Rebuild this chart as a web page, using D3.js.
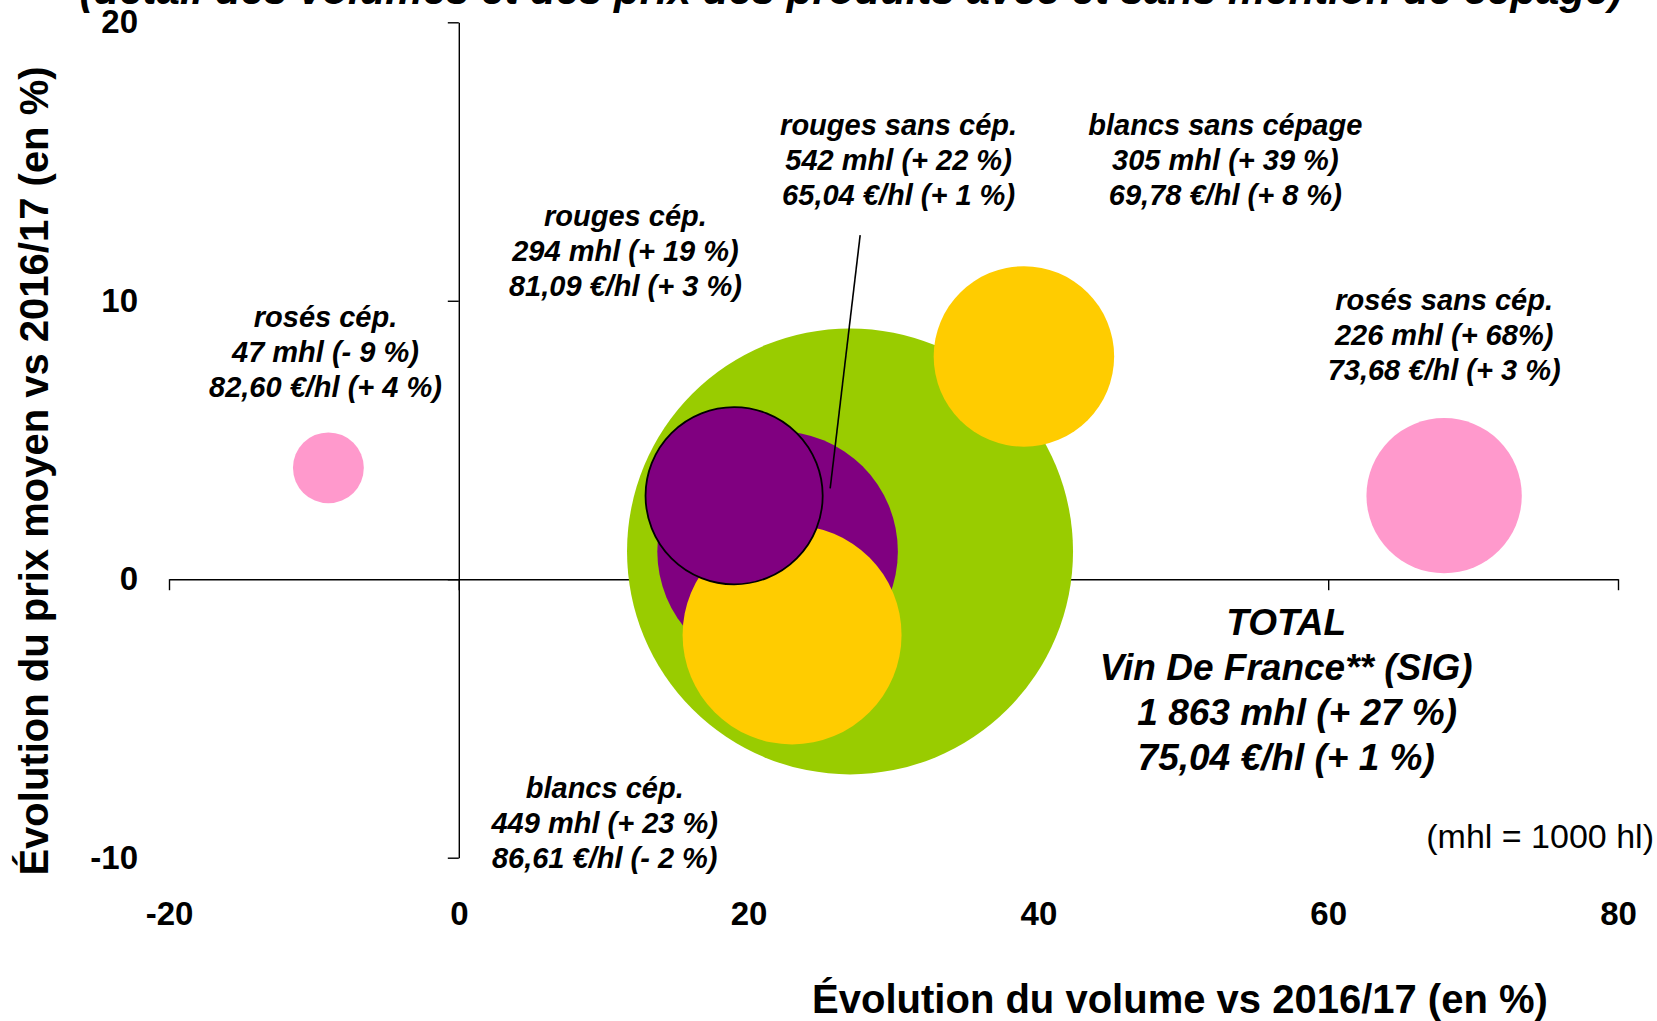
<!DOCTYPE html>
<html>
<head>
<meta charset="utf-8">
<script src="https://cdn.jsdelivr.net/npm/d3@7"></script>
<style>
  body { margin: 0; background: #fff; }
  svg { display: block; font-family: "Liberation Sans", Arial, sans-serif; }
</style>
</head>
<body>
<svg id="chart" width="1657" height="1021"></svg>
<script>
// categories, drawn in this order (big ones first)
const series = ['total', 'rouges sans cép.', 'blancs cép.', 'rouges cép.', 'blancs sans cépage', 'rosés sans cép.', 'rosés cép.'];
const volumeChange = [27, 22, 23, 19, 39, 68, -9];   // % vs 2016/17
const priceChange = [1, 1, -2, 3, 8, 3, 4];          // % vs 2016/17
const volumes = [1863, 542, 449, 294, 305, 226, 47]; // mhl

const labelLines = [
  ['TOTAL', 'Vin De France** (SIG)', '1 863 mhl (+ 27 %)', '75,04 €/hl (+ 1 %)'],
  ['rouges sans cép.', '542 mhl (+ 22 %)', '65,04 €/hl (+ 1 %)'],
  ['blancs cép.', '449 mhl (+ 23 %)', '86,61 €/hl (- 2 %)'],
  ['rouges cép.', '294 mhl (+ 19 %)', '81,09 €/hl (+ 3 %)'],
  ['blancs sans cépage', '305 mhl (+ 39 %)', '69,78 €/hl (+ 8 %)'],
  ['rosés sans cép.', '226 mhl (+ 68%)', '73,68 €/hl (+ 3 %)'],
  ['rosés cép.', '47 mhl (- 9 %)', '82,60 €/hl (+ 4 %)']
];

const xTicks = [-20, 0, 20, 40, 60, 80];
const yTicks = [-10, 0, 10, 20];

const title = '(détail des volumes et des prix des produits avec et sans mention de cépage)';
const xTitle = 'Évolution du volume vs 2016/17 (en %)';
const yTitle = 'Évolution du prix moyen vs 2016/17 (en %)';
const unitNote = '(mhl = 1000 hl)';

// layout / style
const fills = ['#99CC00', '#800080', '#FFCC00', '#800080', '#FFCC00', '#FF99CC', '#FF99CC'];
const outlined = [false, false, false, true, false, false, false];
// label anchor in data units (centre x, first baseline y)
const labelPos = [[57.1, -2.0], [30.35, 15.95], [10.07, -7.86], [11.5, 12.68], [52.9, 15.95], [68.0, 9.66], [-9.2, 9.06]];
const labelSize = [37, 29, 29, 29, 29, 29, 29];
const labelStep = [45, 35, 35, 35, 35, 35, 35];
// leader from the rouges sans cép. label down to its bubble (data units)
const leader = [[27.7, 12.36], [25.63, 3.26]];

const svg = d3.select('#chart');

let x = d3.scaleLinear().domain([-20, 80]).range([169, 1618]);
let y = d3.scaleLinear().domain([-10, 20]).range([857.7, 22.3]);
let r = d3.scaleSqrt().domain([0, 1863]).range([0, 223]);
let fmt = d => String(d); // plain hyphen, like the original

// title (cut off at the top of the picture)
svg.append('text')
  .attr('x', 851).attr('y', 4)
  .attr('text-anchor', 'middle')
  .attr('font-size', 42).attr('font-weight', 'bold').attr('font-style', 'italic')
  .text(title);

// axis lines + ticks
let xAxis = svg.append('g')
  .attr('transform', `translate(0,${y(0)})`)
  .call(d3.axisBottom(x).tickValues(xTicks).tickSize(11).tickSizeOuter(0).tickFormat(''));
let yAxis = svg.append('g')
  .attr('transform', `translate(${x(0)},0)`)
  .call(d3.axisLeft(y).tickValues(yTicks).tickSize(11).tickSizeOuter(0).tickFormat(''));
[xAxis, yAxis].forEach(g => {
  g.selectAll('path, line').attr('stroke', '#000').attr('stroke-width', 1.4);
});

// tick labels sit low / left, away from the axis lines
let xLab = svg.append('g')
  .attr('transform', 'translate(0,902)')
  .call(d3.axisBottom(x).tickValues(xTicks).tickSize(0).tickPadding(0).tickFormat(fmt));
let yLab = svg.append('g')
  .attr('transform', 'translate(138,0)')
  .call(d3.axisLeft(y).tickValues(yTicks).tickSize(0).tickPadding(0).tickFormat(fmt));
[xLab, yLab].forEach(g => {
  g.select('.domain').remove();
  g.attr('font-family', null).attr('font-size', null);
  g.selectAll('text').attr('font-size', 33).attr('font-weight', 'bold').attr('fill', '#000');
});

// bubbles
let bubbles = series.map((s, i) => ({
  name: s, vx: volumeChange[i], vy: priceChange[i], vol: volumes[i],
  fill: fills[i], outlined: outlined[i]
}));

svg.append('g').selectAll('circle')
  .data(bubbles)
  .enter().append('circle')
    .attr('cx', d => x(d.vx))
    .attr('cy', d => y(d.vy))
    .attr('r', d => r(d.vol))
    .attr('fill', d => d.fill)
    .attr('stroke', d => d.outlined ? '#000' : 'none')
    .attr('stroke-width', 1.8);

// leader line
svg.append('line')
  .attr('x1', x(leader[0][0])).attr('y1', y(leader[0][1]))
  .attr('x2', x(leader[1][0])).attr('y2', y(leader[1][1]))
  .attr('stroke', '#000').attr('stroke-width', 1.6);

// bubble labels
let labels = svg.append('g').selectAll('text')
  .data(labelLines)
  .enter().append('text')
    .attr('text-anchor', 'middle')
    .attr('font-weight', 'bold').attr('font-style', 'italic')
    .attr('font-size', (d, i) => labelSize[i])
    .attr('transform', (d, i) => `translate(${x(labelPos[i][0])},${y(labelPos[i][1])})`);

labels.selectAll('tspan')
  .data((d, i) => d.map(t => ({ t, step: labelStep[i] })))
  .enter().append('tspan')
    .attr('x', d => d.t.startsWith('1 863') ? 11 : 0)
    .attr('y', (d, j) => j * d.step)
    .text(d => d.t);

// note
svg.append('text')
  .attr('x', 1654).attr('y', 848)
  .attr('text-anchor', 'end')
  .attr('font-size', 34)
  .text(unitNote);

// axis titles
svg.append('text')
  .attr('x', 1180).attr('y', 1013)
  .attr('text-anchor', 'middle')
  .attr('font-size', 40).attr('font-weight', 'bold')
  .text(xTitle);

svg.append('text')
  .attr('transform', 'translate(48,471) rotate(-90)')
  .attr('text-anchor', 'middle')
  .attr('font-size', 40).attr('font-weight', 'bold')
  .text(yTitle);
</script>
</body>
</html>
